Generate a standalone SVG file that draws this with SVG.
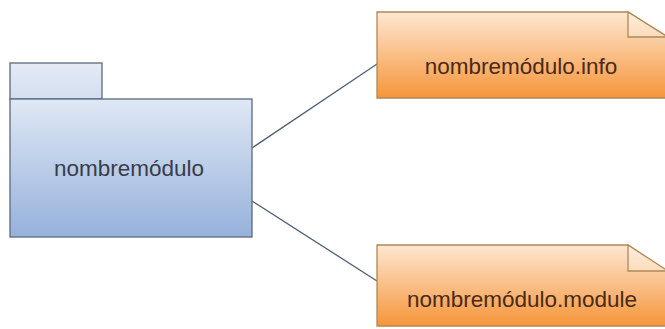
<svg xmlns="http://www.w3.org/2000/svg" width="665" height="329" viewBox="0 0 665 329">
<defs>
<linearGradient id="gPkg" x1="0" y1="0" x2="0" y2="1">
<stop offset="0" stop-color="#dfe8f5"/>
<stop offset="1" stop-color="#96b1db"/>
</linearGradient>
<linearGradient id="gTab" x1="0" y1="0" x2="0" y2="1">
<stop offset="0" stop-color="#e4ebf6"/>
<stop offset="1" stop-color="#d3def0"/>
</linearGradient>
<linearGradient id="gNote" x1="0" y1="0" x2="0" y2="1">
<stop offset="0" stop-color="#fde7d2"/>
<stop offset="1" stop-color="#f6953a"/>
</linearGradient>
<linearGradient id="gFold" x1="0" y1="0" x2="0" y2="1">
<stop offset="0" stop-color="#fdeede"/>
<stop offset="1" stop-color="#fbdcbc"/>
</linearGradient>
</defs>
<style>
.pkg{stroke:#5a6a7e;stroke-width:1.3}
.note{fill:url(#gNote);stroke:#b08955;stroke-width:1.3}
.fold{fill:url(#gFold);stroke:#b08955;stroke-width:1.3}
.conn{stroke:#4f5f73;stroke-width:1.3;fill:none}
.lbl{font-family:"Liberation Sans",Arial,sans-serif;font-size:22.5px;text-anchor:middle}
</style>
<g id="connectors">
<line class="conn" x1="252" y1="148" x2="377" y2="64"/>
<line class="conn" x1="252" y1="201" x2="377" y2="281"/>
</g>
<g id="package">
<rect class="pkg" x="10" y="63" width="92" height="36" fill="url(#gTab)"/>
<rect class="pkg" x="10" y="99" width="242" height="138" fill="url(#gPkg)"/>
<text class="lbl" x="129" y="176" fill="#3a3c4a">nombremódulo</text>
</g>
<g id="note-info">
<path class="note" d="M377,12 H628 L668,38 V98 H377 Z"/>
<path class="fold" d="M628,12 V37 H668 Z"/>
<text class="lbl" x="521" y="74" fill="#4a2a18">nombremódulo.info</text>
</g>
<g id="note-module">
<path class="note" d="M377,245 H628 L668,272 V326 H377 Z"/>
<path class="fold" d="M628,245 V271 H668 Z"/>
<text class="lbl" x="522" y="307" fill="#4a2a18">nombremódulo.module</text>
</g>
</svg>
